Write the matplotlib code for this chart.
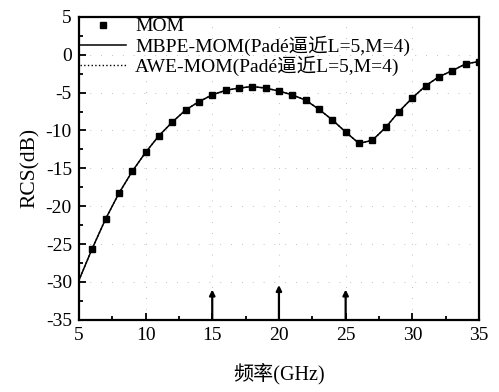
import matplotlib
matplotlib.use("Agg")
import matplotlib.pyplot as plt
from matplotlib.ticker import MultipleLocator

plt.rcParams['font.family'] = ['Liberation Serif', 'Noto Sans CJK SC', 'DejaVu Sans']
plt.rcParams['axes.unicode_minus'] = False

# MOM samples (GHz, dB)
mom_freq = [6, 7, 8, 9, 10, 11, 12, 13, 14, 15, 16, 17, 18, 19, 20,
            21, 22, 23, 24, 25, 26, 27, 28, 29, 30, 31, 32, 33, 34, 35]
mom_rcs = [-25.6, -21.7, -18.3, -15.4, -12.9, -10.7, -8.9, -7.3, -6.2, -5.3,
           -4.7, -4.4, -4.2, -4.4, -4.8, -5.3, -6.0, -7.2, -8.6, -10.2,
           -11.7, -11.3, -9.6, -7.5, -5.7, -4.1, -2.9, -2.1, -1.2, -0.9]

# MBPE / AWE curves (same as MOM within line width, plus the 5 GHz start)
fit_freq = [5] + mom_freq
fit_rcs = [-29.8] + mom_rcs

# expansion / sampling points marked with arrows
arrow_freq = [15, 20, 25]
arrow_top = [-31.0, -30.4, -31.0]

fig = plt.figure(figsize=(4.99, 3.92), dpi=100)
ax = fig.add_axes([0.158, 0.184, 0.802, 0.773])

ax.plot(mom_freq, mom_rcs, 's', color='black', markersize=5, label='MOM')
ax.plot(fit_freq, fit_rcs, '-', color='black', linewidth=1.1,
        label='MBPE-MOM(Padé逼近L=5,M=4)')
ax.plot(fit_freq, fit_rcs, ':', color='black', linewidth=1.0,
        label='AWE-MOM(Padé逼近L=5,M=4)')

for f, top in zip(arrow_freq, arrow_top):
    ax.annotate('', xy=(f, top), xytext=(f, -35),
                arrowprops=dict(arrowstyle='-|>', color='black', lw=1.6,
                                mutation_scale=8, shrinkA=0, shrinkB=0))

ax.set_xlim(5, 35)
ax.set_ylim(-35, 5)
ax.xaxis.set_major_locator(MultipleLocator(5))
ax.xaxis.set_minor_locator(MultipleLocator(2.5))
ax.yaxis.set_major_locator(MultipleLocator(5))
ax.yaxis.set_minor_locator(MultipleLocator(2.5))
ax.tick_params(which='both', direction='in', labelsize=14, width=1.3)
ax.tick_params(which='major', length=5, pad=5)
ax.tick_params(which='minor', length=3)
for s in ax.spines.values():
    s.set_linewidth(1.6)

ax.grid(True, which='major', color='#aaaaaa', linewidth=0.6,
        linestyle=(0, (1, 12)))

ax.set_xlabel('频率(GHz)', fontsize=14.5, labelpad=14)
ax.set_ylabel('RCS(dB)', fontsize=15.5, labelpad=4)

ax.legend(loc='upper left', frameon=False, fontsize=14, handlelength=2.4,
          handletextpad=0.45, labelspacing=0.0, borderaxespad=0.0,
          borderpad=0.05)

fig.savefig('out.png', dpi=100)
